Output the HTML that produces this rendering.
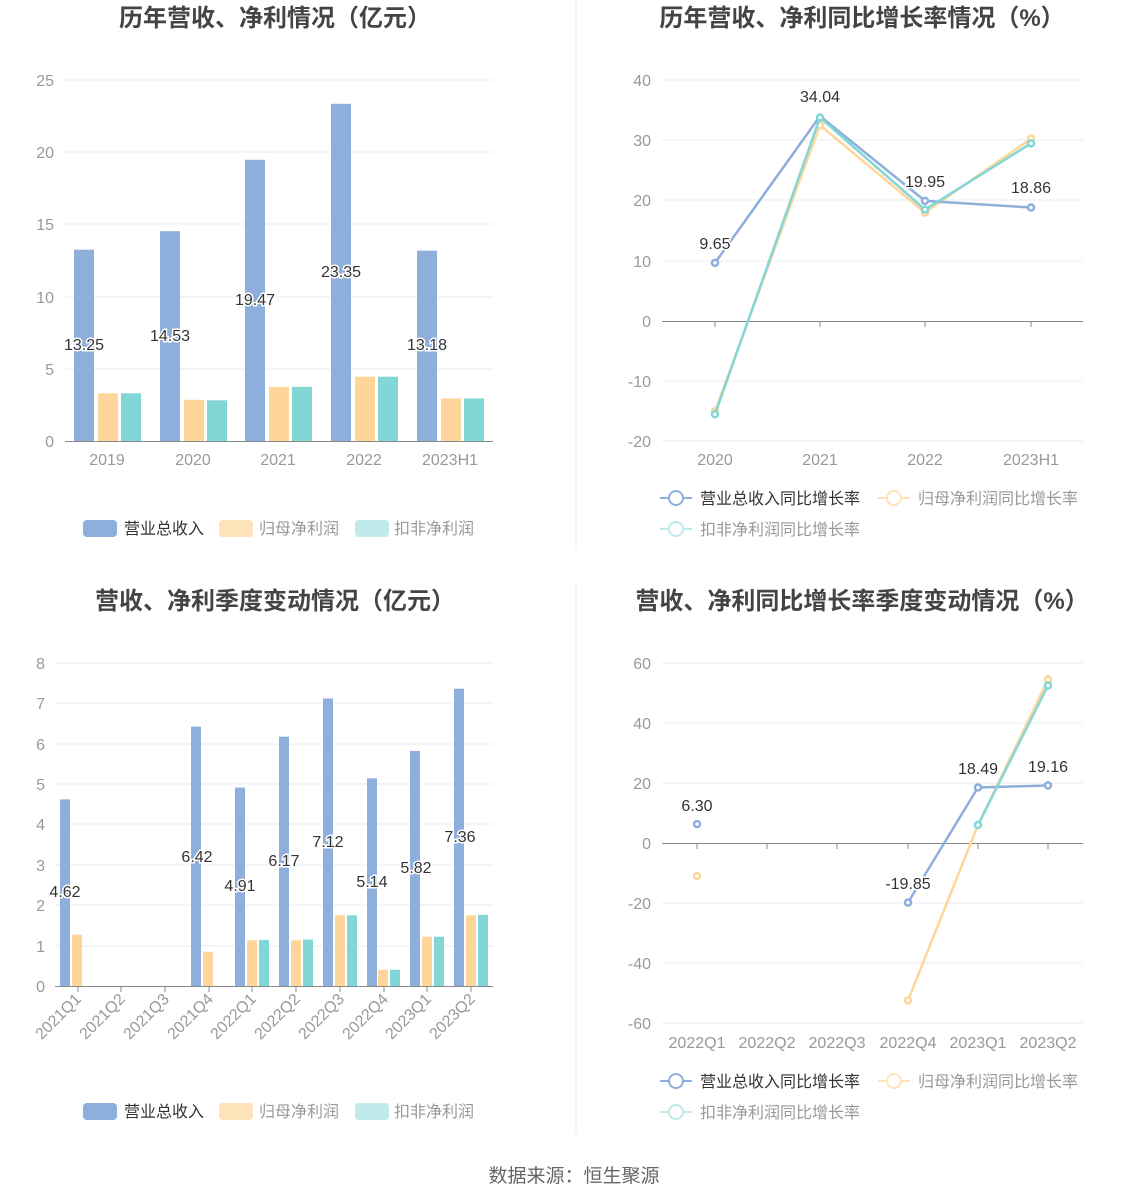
<!DOCTYPE html>
<html><head><meta charset="utf-8"><style>
body{margin:0;background:#fff;}
svg{display:block;font-family:"Liberation Sans","Noto Sans CJK SC",sans-serif;}
.t{font-size:24px;font-weight:bold;fill:#444;text-anchor:middle}
.ax{font-size:16px;fill:#999}
.lb{font-size:16px;fill:#333;text-anchor:middle;paint-order:stroke;stroke:#fff;stroke-width:3px}
.g{stroke:#e8ebf3;stroke-width:1}
.lg{font-size:16px;fill:#999}
</style></head><body>
<svg width="1148" height="1202" viewBox="0 0 1148 1202">
<line x1="576" y1="0" x2="576" y2="550" stroke="#eee"/>
<line x1="576" y1="582" x2="576" y2="1135" stroke="#eee"/>
<text class="t" x="275" y="26">历年营收、净利情况（亿元）</text>
<text class="t" x="862" y="26">历年营收、净利同比增长率情况（%）</text>
<text class="t" x="275" y="609">营收、净利季度变动情况（亿元）</text>
<text class="t" x="862" y="609">营收、净利同比增长率季度变动情况（%）</text>

<!-- Chart 1 -->
<g class="g">
<line x1="65" y1="80" x2="493" y2="80"/><line x1="65" y1="152" x2="493" y2="152"/><line x1="65" y1="224" x2="493" y2="224"/><line x1="65" y1="297" x2="493" y2="297"/><line x1="65" y1="369" x2="493" y2="369"/>
</g>
<g class="ax" text-anchor="end">
<text x="54" y="86">25</text><text x="54" y="158">20</text><text x="54" y="230">15</text><text x="54" y="303">10</text><text x="54" y="375">5</text><text x="54" y="447">0</text>
</g>
<g fill="#8eaedc">
<rect x="74" y="249.7" width="20" height="191.3"/><rect x="160" y="231.2" width="20" height="209.8"/><rect x="245" y="159.8" width="20" height="281.2"/><rect x="331" y="103.8" width="20" height="337.2"/><rect x="417" y="250.7" width="20" height="190.3"/>
</g>
<g fill="#ffd699">
<rect x="98" y="393.3" width="20" height="47.7"/><rect x="184" y="399.8" width="20" height="41.2"/><rect x="269" y="386.9" width="20" height="54.1"/><rect x="355" y="376.7" width="20" height="64.3"/><rect x="441" y="398.4" width="20" height="42.6"/>
</g>
<g fill="#82d6d6">
<rect x="121" y="393.3" width="20" height="47.7"/><rect x="207" y="400.3" width="20" height="40.7"/><rect x="292" y="386.9" width="20" height="54.1"/><rect x="378" y="376.7" width="20" height="64.3"/><rect x="464" y="398.4" width="20" height="42.6"/>
</g>
<line x1="65" y1="441.5" x2="493" y2="441.5" stroke="#888"/>
<g class="ax" text-anchor="middle">
<text x="107" y="465">2019</text><text x="193" y="465">2020</text><text x="278" y="465">2021</text><text x="364" y="465">2022</text><text x="450" y="465">2023H1</text>
</g>
<g class="lb">
<text x="84" y="350">13.25</text><text x="170" y="341">14.53</text><text x="255" y="305">19.47</text><text x="341" y="277">23.35</text><text x="427" y="350">13.18</text>
</g>
<rect x="83" y="520" width="34" height="17" rx="4" fill="#8eaedc"/><text class="lg" x="124" y="534" style="fill:#333">营业总收入</text>
<rect x="219" y="520" width="34" height="17" rx="4" fill="#ffe4bb"/><text class="lg" x="259" y="534">归母净利润</text>
<rect x="355" y="520" width="34" height="17" rx="4" fill="#bfeaea"/><text class="lg" x="394" y="534">扣非净利润</text>

<!-- Chart 2 -->
<g class="g">
<line x1="662" y1="80" x2="1083" y2="80"/><line x1="662" y1="140" x2="1083" y2="140"/><line x1="662" y1="200" x2="1083" y2="200"/><line x1="662" y1="261" x2="1083" y2="261"/><line x1="662" y1="381" x2="1083" y2="381"/><line x1="662" y1="441" x2="1083" y2="441"/>
</g>
<g class="ax" text-anchor="end">
<text x="651" y="86">40</text><text x="651" y="146">30</text><text x="651" y="206">20</text><text x="651" y="267">10</text><text x="651" y="327">0</text><text x="651" y="387">-10</text><text x="651" y="447">-20</text>
</g>
<line x1="662" y1="321.5" x2="1083" y2="321.5" stroke="#888"/>
<g stroke="#888"><line x1="715" y1="321" x2="715" y2="327"/><line x1="820" y1="321" x2="820" y2="327"/><line x1="925" y1="321" x2="925" y2="327"/><line x1="1031" y1="321" x2="1031" y2="327"/></g>
<g class="ax" text-anchor="middle">
<text x="715" y="465">2020</text><text x="820" y="465">2021</text><text x="925" y="465">2022</text><text x="1031" y="465">2023H1</text>
</g>
<g fill="#fff" stroke-width="2.5">
<polyline points="715,411.3 820,125.3 925,212.6 1031,138.6" fill="none" stroke="#ffd699"/>
<circle cx="715" cy="411.3" r="3" stroke="#ffd699"/><circle cx="820" cy="125.3" r="3" stroke="#ffd699"/><circle cx="925" cy="212.6" r="3" stroke="#ffd699"/><circle cx="1031" cy="138.6" r="3" stroke="#ffd699"/>
<polyline points="715,262.9 820,116.1 925,200.9 1031,207.5" fill="none" stroke="#8eaedc"/>
<circle cx="715" cy="262.9" r="3" stroke="#8eaedc"/><circle cx="925" cy="200.9" r="3" stroke="#8eaedc"/><circle cx="1031" cy="207.5" r="3" stroke="#8eaedc"/>
<polyline points="715,414.3 820,117.5 925,209.6 1031,143.4" fill="none" stroke="#82d6d6"/>
<circle cx="715" cy="414.3" r="3" stroke="#82d6d6"/><circle cx="820" cy="117.5" r="3" stroke="#82d6d6"/><circle cx="925" cy="209.6" r="3" stroke="#82d6d6"/><circle cx="1031" cy="143.4" r="3" stroke="#82d6d6"/>
</g>
<g class="lb">
<text x="715" y="249">9.65</text><text x="820" y="102">34.04</text><text x="925" y="187">19.95</text><text x="1031" y="193">18.86</text>
</g>
<g fill="#fff" stroke-width="2">
<line x1="660" y1="498" x2="692" y2="498" stroke="#8eaedc"/><circle cx="676" cy="498" r="7" stroke="#8eaedc"/>
<line x1="878" y1="498" x2="910" y2="498" stroke="#ffe4bb"/><circle cx="894" cy="498" r="7" stroke="#ffe4bb"/>
<line x1="660" y1="529" x2="692" y2="529" stroke="#bfeaea"/><circle cx="676" cy="529" r="7" stroke="#bfeaea"/>
</g>
<text class="lg" x="700" y="504" style="fill:#333">营业总收入同比增长率</text>
<text class="lg" x="918" y="504">归母净利润同比增长率</text>
<text class="lg" x="700" y="535">扣非净利润同比增长率</text>

<!-- Chart 3 -->
<g class="g">
<line x1="55" y1="663" x2="493" y2="663"/><line x1="55" y1="703" x2="493" y2="703"/><line x1="55" y1="744" x2="493" y2="744"/><line x1="55" y1="784" x2="493" y2="784"/><line x1="55" y1="824" x2="493" y2="824"/><line x1="55" y1="865" x2="493" y2="865"/><line x1="55" y1="905" x2="493" y2="905"/><line x1="55" y1="946" x2="493" y2="946"/>
</g>
<g class="ax" text-anchor="end">
<text x="45" y="669">8</text><text x="45" y="709">7</text><text x="45" y="750">6</text><text x="45" y="790">5</text><text x="45" y="830">4</text><text x="45" y="871">3</text><text x="45" y="911">2</text><text x="45" y="952">1</text><text x="45" y="992">0</text>
</g>
<g fill="#8eaedc">
<rect x="60" y="799.4" width="10" height="186.6"/><rect x="191" y="726.6" width="10" height="259.4"/><rect x="235" y="787.6" width="10" height="198.4"/><rect x="279" y="736.7" width="10" height="249.3"/><rect x="323" y="698.4" width="10" height="287.6"/><rect x="367" y="778.3" width="10" height="207.7"/><rect x="410" y="750.9" width="10" height="235.1"/><rect x="454" y="688.7" width="10" height="297.3"/>
</g>
<g fill="#ffd699">
<rect x="72" y="934.7" width="10" height="51.3"/><rect x="203" y="951.7" width="10" height="34.3"/><rect x="247" y="940.3" width="10" height="45.7"/><rect x="291" y="940.3" width="10" height="45.7"/><rect x="335" y="915.3" width="10" height="70.7"/><rect x="378" y="969.8" width="10" height="16.2"/><rect x="422" y="936.7" width="10" height="49.3"/><rect x="466" y="915.3" width="10" height="70.7"/>
</g>
<g fill="#82d6d6">
<rect x="259" y="939.9" width="10" height="46.1"/><rect x="303" y="939.5" width="10" height="46.5"/><rect x="347" y="915.3" width="10" height="70.7"/><rect x="390" y="969.8" width="10" height="16.2"/><rect x="434" y="936.7" width="10" height="49.3"/><rect x="478" y="914.9" width="10" height="71.1"/>
</g>
<line x1="55" y1="986.5" x2="493" y2="986.5" stroke="#888"/>
<g stroke="#888"><line x1="78" y1="986" x2="78" y2="992"/><line x1="121" y1="986" x2="121" y2="992"/><line x1="165" y1="986" x2="165" y2="992"/><line x1="209" y1="986" x2="209" y2="992"/><line x1="252" y1="986" x2="252" y2="992"/><line x1="296" y1="986" x2="296" y2="992"/><line x1="340" y1="986" x2="340" y2="992"/><line x1="384" y1="986" x2="384" y2="992"/><line x1="427" y1="986" x2="427" y2="992"/><line x1="471" y1="986" x2="471" y2="992"/></g>
<g class="ax" text-anchor="end">
<text transform="translate(82,1000) rotate(-45)">2021Q1</text>
<text transform="translate(126,1000) rotate(-45)">2021Q2</text>
<text transform="translate(170,1000) rotate(-45)">2021Q3</text>
<text transform="translate(214,1000) rotate(-45)">2021Q4</text>
<text transform="translate(257,1000) rotate(-45)">2022Q1</text>
<text transform="translate(301,1000) rotate(-45)">2022Q2</text>
<text transform="translate(345,1000) rotate(-45)">2022Q3</text>
<text transform="translate(389,1000) rotate(-45)">2022Q4</text>
<text transform="translate(432,1000) rotate(-45)">2023Q1</text>
<text transform="translate(476,1000) rotate(-45)">2023Q2</text>
</g>
<g class="lb">
<text x="65" y="897">4.62</text><text x="197" y="862">6.42</text><text x="240" y="891">4.91</text><text x="284" y="866">6.17</text><text x="328" y="847">7.12</text><text x="372" y="887">5.14</text><text x="416" y="873">5.82</text><text x="460" y="842">7.36</text>
</g>
<rect x="83" y="1103" width="34" height="17" rx="4" fill="#8eaedc"/><text class="lg" x="124" y="1117" style="fill:#333">营业总收入</text>
<rect x="219" y="1103" width="34" height="17" rx="4" fill="#ffe4bb"/><text class="lg" x="259" y="1117">归母净利润</text>
<rect x="355" y="1103" width="34" height="17" rx="4" fill="#bfeaea"/><text class="lg" x="394" y="1117">扣非净利润</text>

<!-- Chart 4 -->
<g class="g">
<line x1="662" y1="663" x2="1083" y2="663"/><line x1="662" y1="723" x2="1083" y2="723"/><line x1="662" y1="783" x2="1083" y2="783"/><line x1="662" y1="903" x2="1083" y2="903"/><line x1="662" y1="963" x2="1083" y2="963"/><line x1="662" y1="1023" x2="1083" y2="1023"/>
</g>
<g class="ax" text-anchor="end">
<text x="651" y="669">60</text><text x="651" y="729">40</text><text x="651" y="789">20</text><text x="651" y="849">0</text><text x="651" y="909">-20</text><text x="651" y="969">-40</text><text x="651" y="1029">-60</text>
</g>
<line x1="662" y1="843.5" x2="1083" y2="843.5" stroke="#888"/>
<g stroke="#888"><line x1="697" y1="843" x2="697" y2="849"/><line x1="767" y1="843" x2="767" y2="849"/><line x1="837" y1="843" x2="837" y2="849"/><line x1="908" y1="843" x2="908" y2="849"/><line x1="978" y1="843" x2="978" y2="849"/><line x1="1048" y1="843" x2="1048" y2="849"/></g>
<g class="ax" text-anchor="middle">
<text x="697" y="1048">2022Q1</text><text x="767" y="1048">2022Q2</text><text x="837" y="1048">2022Q3</text><text x="908" y="1048">2022Q4</text><text x="978" y="1048">2023Q1</text><text x="1048" y="1048">2023Q2</text>
</g>
<g fill="#fff" stroke-width="2.5">
<polyline points="908,1000.5 978,825 1048,679.5" fill="none" stroke="#ffd699"/>
<circle cx="697" cy="876" r="3" stroke="#ffd699"/><circle cx="908" cy="1000.5" r="3" stroke="#ffd699"/><circle cx="1048" cy="679.5" r="3" stroke="#ffd699"/>
<polyline points="908,902.6 978,787.5 1048,785.5" fill="none" stroke="#8eaedc"/>
<circle cx="697" cy="824.1" r="3" stroke="#8eaedc"/><circle cx="908" cy="902.6" r="3" stroke="#8eaedc"/><circle cx="978" cy="787.5" r="3" stroke="#8eaedc"/><circle cx="1048" cy="785.5" r="3" stroke="#8eaedc"/>
<polyline points="978,825 1048,685.5" fill="none" stroke="#82d6d6"/>
<circle cx="978" cy="825" r="3" stroke="#82d6d6"/><circle cx="1048" cy="685.5" r="3" stroke="#82d6d6"/>
</g>
<g class="lb">
<text x="697" y="811">6.30</text><text x="908" y="889">-19.85</text><text x="978" y="774">18.49</text><text x="1048" y="772">19.16</text>
</g>
<g fill="#fff" stroke-width="2">
<line x1="660" y1="1081" x2="692" y2="1081" stroke="#8eaedc"/><circle cx="676" cy="1081" r="7" stroke="#8eaedc"/>
<line x1="878" y1="1081" x2="910" y2="1081" stroke="#ffe4bb"/><circle cx="894" cy="1081" r="7" stroke="#ffe4bb"/>
<line x1="660" y1="1112" x2="692" y2="1112" stroke="#bfeaea"/><circle cx="676" cy="1112" r="7" stroke="#bfeaea"/>
</g>
<text class="lg" x="700" y="1087" style="fill:#333">营业总收入同比增长率</text>
<text class="lg" x="918" y="1087">归母净利润同比增长率</text>
<text class="lg" x="700" y="1118">扣非净利润同比增长率</text>

<text x="574" y="1182" text-anchor="middle" style="font-size:19px;fill:#666">数据来源：恒生聚源</text>
</svg>
</body></html>
